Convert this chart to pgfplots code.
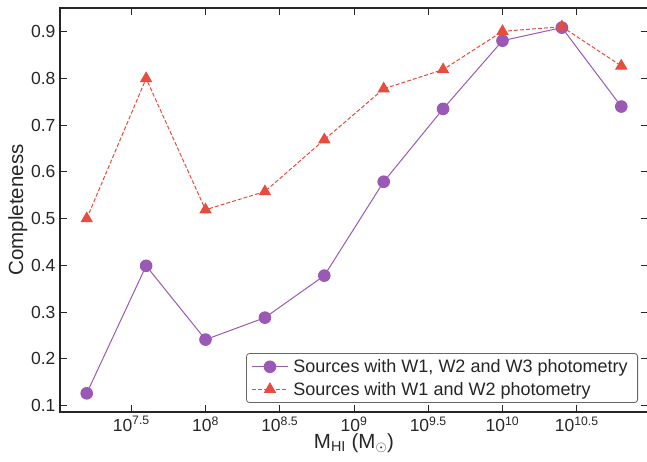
\documentclass[border=0pt]{standalone}
\usepackage{pgfplots}
\pgfplotsset{compat=1.18}
\usepackage{fontspec}
\setmainfont{Liberation Sans}
\definecolor{cpurple}{HTML}{9B59B6}
\definecolor{cred}{HTML}{E74C3C}
\definecolor{spine}{HTML}{262626}
\begin{document}
\begin{tikzpicture}
\begin{axis}[
  at={(0pt,0pt)}, anchor=south west,
  scale only axis,
  width=588pt, height=404pt,
  xmin=7.02, xmax=10.98,
  ymin=0.086, ymax=0.951,
  axis line style={line width=2pt, draw=spine},
  tick style={line width=1pt, draw=spine},
  major tick length=7pt,
  tick align=inside,
  xtick={7.5,8,8.5,9,9.5,10,10.5},
  xticklabels={10\textsuperscript{7.5},10\textsuperscript{8},10\textsuperscript{8.5},10\textsuperscript{9},10\textsuperscript{9.5},10\textsuperscript{10},10\textsuperscript{10.5}},
  ytick={0.1,0.2,...,0.9},
  yticklabel style={/pgf/number format/fixed, /pgf/number format/precision=1, /pgf/number format/fixed zerofill, xshift=-1pt},
  /pgf/number format/assume math mode=true,
  ticklabel style={font=\fontsize{17.5}{20}\selectfont, text=spine},
  xticklabel style={yshift=-1pt},
  xlabel={M\textsubscript{HI} (M\ensuremath{_\odot})},
  ylabel={Completeness},
  label style={font=\fontsize{20.5}{24}\selectfont, text=spine},
  xlabel style={yshift=5pt},
  ylabel style={yshift=-3pt},
  legend style={at={(1,0)}, anchor=south east, xshift=-10pt, yshift=9pt,
    draw=gray!80!black, line width=0.8pt, rounded corners=3pt,
    font=\fontsize{18}{22}\selectfont, text=spine, row sep=4pt,
    inner xsep=5pt, inner ysep=4pt,
    nodes={inner xsep=5pt}},
  legend cell align=left,
  legend image code/.code={
    \draw[mark repeat=2,mark phase=2,#1] plot coordinates {(0pt,0pt) (18pt,0pt) (36pt,0pt)};
  },
]
\addplot[color=cpurple, line width=1pt, mark=*, mark size=5.8pt, mark options={solid, fill=cpurple, draw=cpurple}]
coordinates {(7.2,0.126) (7.6,0.399) (8.0,0.241) (8.4,0.288) (8.8,0.378) (9.2,0.579) (9.6,0.735) (10.0,0.881) (10.4,0.909) (10.8,0.740)};
\addlegendentry{Sources with W1, W2 and W3 photometry}
\addplot[color=cred, line width=1pt, dash pattern=on 4pt off 2pt, mark=triangle*, mark size=6.2pt, mark options={solid, fill=cred, draw=cred}]
coordinates {(7.2,0.500) (7.6,0.800) (8.0,0.519) (8.4,0.558) (8.8,0.669) (9.2,0.778) (9.6,0.819) (10.0,0.901) (10.4,0.911) (10.8,0.827)};
\addlegendentry{Sources with W1 and W2 photometry}
\end{axis}
\pgfresetboundingbox
\useasboundingbox (-60pt,-50pt) rectangle (587pt,412pt);
\end{tikzpicture}
\end{document}
